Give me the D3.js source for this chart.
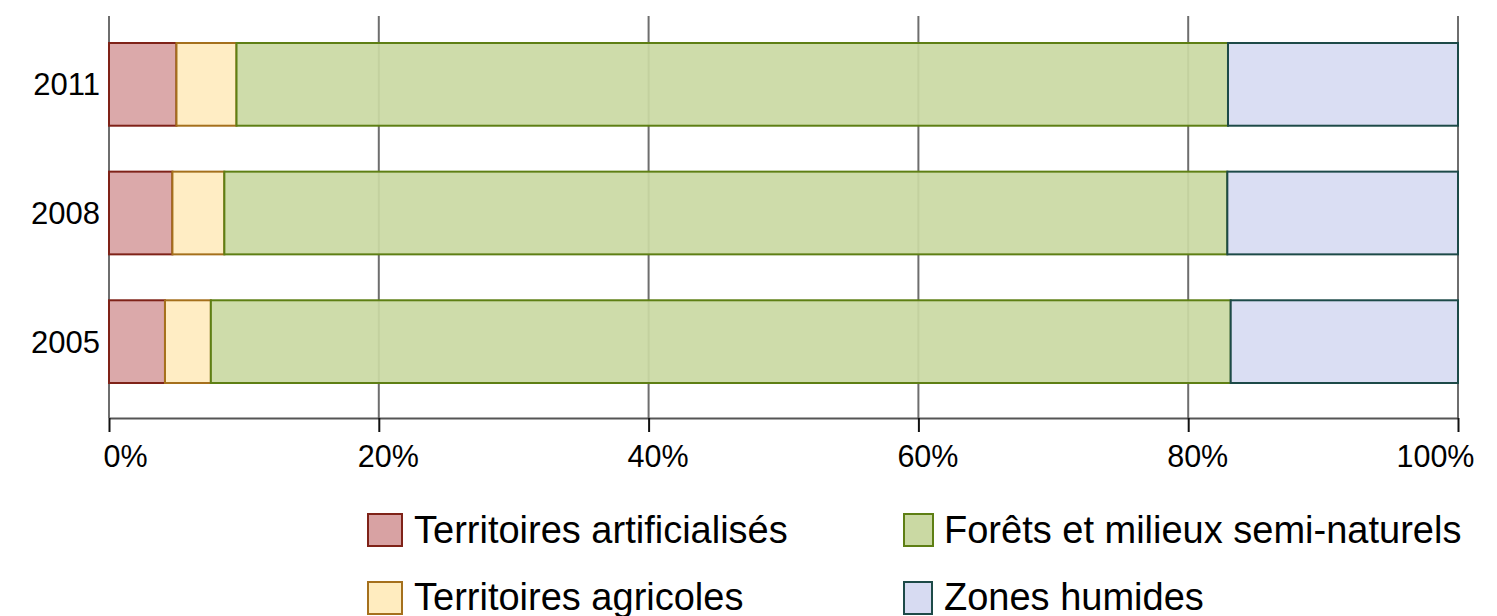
<!DOCTYPE html>
<html>
<head>
<meta charset="utf-8">
<style>
    body { margin: 0; background: #fff; }
    text { font-family: "Liberation Sans", Arial, sans-serif; fill: #000; }
</style>
</head>
<body>
<svg width="1497" height="616"></svg>
<script src="https://cdn.jsdelivr.net/npm/d3@7"></script>
<script>
    // years, top to bottom
    var years = ["2011", "2008", "2005"];
    var categories = ["Territoires artificialisés", "Territoires agricoles", "Forêts et milieux semi-naturels", "Zones humides"];
    // percentages per category, same order as years
    var artificialises = [5.0, 4.7, 4.15];
    var agricoles = [4.45, 3.85, 3.4];
    var forets = [73.5, 74.35, 75.6];
    var humides = [17.05, 17.1, 16.85];
    var xTicks = [0, 20, 40, 60, 80, 100];

    var fills = ["#d8a2a3", "#ffecbf", "#cad9a3", "#d7dbf2"];
    var strokes = ["#7f2218", "#a5701c", "#5e7f14", "#1d4a48"];

    var svg = d3.select("svg");

    var x = d3.scaleLinear().domain([0, 100]).range([109, 1458]);
    var y = d3.scaleBand().domain(years).range([43, 383]).paddingInner(0.357).paddingOuter(0);

    var rows = years.map(function (yr, i) {
        return { year: yr, vals: [artificialises[i], agricoles[i], forets[i], humides[i]] };
    });
    var stack = d3.stack().keys([0, 1, 2, 3]).value(function (d, k) { return d.vals[k]; });
    var series = stack(rows);

    // vertical grid lines
    svg.append("g")
        .selectAll("line")
        .data(xTicks)
        .enter().append("line")
        .attr("x1", d => x(d)).attr("x2", d => x(d))
        .attr("y1", 16).attr("y2", 418)
        .attr("stroke", "#6e6e6e")
        .attr("stroke-width", 2);

    // bars
    svg.append("g")
        .selectAll("g")
        .data(series)
        .enter().append("g")
        .attr("fill", (d, i) => fills[i])
        .attr("stroke", (d, i) => strokes[i])
        .selectAll("rect")
        .data(d => d)
        .enter().append("rect")
        .attr("x", d => x(d[0]))
        .attr("y", d => y(d.data.year))
        .attr("width", d => x(d[1]) - x(d[0]))
        .attr("height", y.bandwidth())
        .attr("fill-opacity", 0.92)
        .attr("stroke-width", 2);

    // x axis
    var xAxis = svg.append("g")
        .attr("transform", "translate(0,418)")
        .call(d3.axisBottom(x).tickValues(xTicks).tickFormat(d => d + "%").tickSize(14).tickSizeOuter(0));
    xAxis.select(".domain").attr("stroke", "#555").attr("stroke-width", 2);
    xAxis.selectAll(".tick line").attr("stroke", "#111").attr("stroke-width", 2);
    xAxis.selectAll(".tick text")
        .attr("font-size", 30.5)
        .attr("font-family", "Liberation Sans, Arial, sans-serif")
        .attr("fill", "#000")
        .attr("y", 49)
        .attr("dy", null)
        .attr("text-anchor", (d, i) => i === 0 ? "start" : (i === xTicks.length - 1 ? "end" : "middle"))
        .attr("dx", (d, i) => i === 0 ? -6 : (i === xTicks.length - 1 ? 16 : 9));

    // year labels
    svg.append("g")
        .selectAll("text")
        .data(years)
        .enter().append("text")
        .attr("x", 100)
        .attr("y", d => y(d) + y.bandwidth() / 2 + 11)
        .attr("text-anchor", "end")
        .attr("font-size", 31)
        .text(d => d);

    // legend
    var legendPos = [[367, 513, 36], [367, 581, 36], [903, 513, 31], [903, 581, 30]];
    var legend = svg.append("g")
        .selectAll("g")
        .data(categories)
        .enter().append("g")
        .attr("transform", (d, i) => "translate(" + legendPos[i][0] + "," + legendPos[i][1] + ")");
    legend.append("rect")
        .attr("x", 1).attr("y", 1)
        .attr("width", (d, i) => legendPos[i][2] - 2).attr("height", 32)
        .attr("fill", (d, i) => fills[i])
        .attr("stroke", (d, i) => strokes[i])
        .attr("stroke-width", 2);
    legend.append("text")
        .attr("x", (d, i) => i < 2 ? 47 : 41)
        .attr("y", (d, i) => i % 2 === 0 ? 30 : 29)
        .attr("font-size", 38)
        .text(d => d);
</script>
</body>
</html>
